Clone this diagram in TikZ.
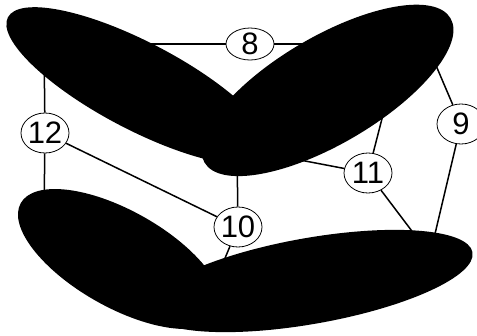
\documentclass[tikz,border=0pt]{standalone}
\usepackage{fontspec}
\setmainfont{Liberation Sans}
\usetikzlibrary{shapes.geometric}
\begin{document}
\begin{tikzpicture}[x=1pt,y=-1pt,
  vnode/.style={ellipse,draw,fill=white,line width=0.8pt,minimum width=48pt,minimum height=40pt,inner xsep=-1pt,inner ysep=0pt,font=\fontsize{31}{31}\selectfont},
  link/.style={line width=1.5pt},
  blob/.style={fill=black}]
\useasboundingbox (0,0) rectangle (477,335);
% visible nodes
\node[vnode,minimum height=32pt] (n8) at (250,44) {8};
\node[vnode] (n9) at (461,124) {9};
\node[vnode] (n10) at (238,227) {10};
\node[vnode] (n11) at (368,173) {11};
\node[vnode] (n12) at (45,133) {12};
% hidden end points under the blobs
\coordinate (h1) at (44,44);
\coordinate (h2) at (400,44);
\coordinate (h3) at (44,215);
\coordinate (h4) at (237,148);
\coordinate (h5) at (213,287);
\coordinate (h6) at (430,255);
\coordinate (h7) at (393,76);
\coordinate (h8) at (420,28);
% connectors
\draw[link] (h1) -- (n8);
\draw[link] (n8) -- (h2);
\draw[link] (h1) -- (n12);
\draw[link] (n12) -- (h3);
\draw[link] (n12) -- (n10);
\draw[link] (n10) -- (h4);
\draw[link] (n11) -- (h4);
\draw[link] (n10) -- (h5);
\draw[link] (n11) -- (h6);
\draw[link] (n9) -- (h6);
\draw[link] (n11) -- (h7);
\draw[link] (n9) -- (h8);
% blobs
\fill[blob,rotate around={-27.65:(139,86)}] (139,86) ellipse [x radius=148pt, y radius=43.6pt];
\fill[blob,rotate around={30.4:(327.5,90.4)}] (327.5,90.4) ellipse [x radius=142.6pt, y radius=53.6pt];
\fill[blob,rotate around={-29.4:(120,259)}] (120,259) ellipse [x radius=113.9pt, y radius=48.3pt];
\fill[blob,rotate around={10:(310,281)}] (310,281) ellipse [x radius=165pt, y radius=43pt];
\end{tikzpicture}
\end{document}
